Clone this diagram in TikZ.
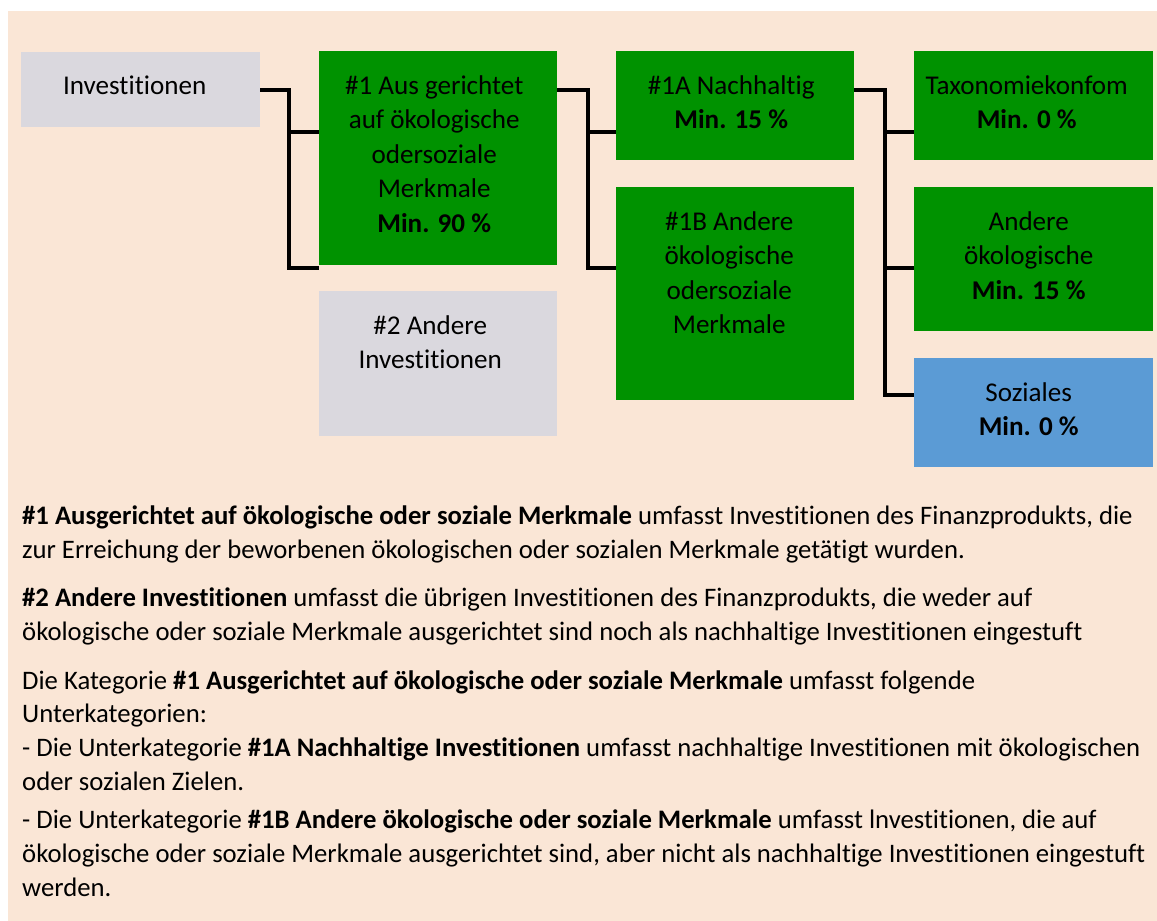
\documentclass[tikz,border=0pt]{standalone}
\usepackage{fontspec}
\setmainfont{Carlito}[Ligatures=NoCommon]
\usetikzlibrary{positioning}

\definecolor{peach}{HTML}{FAE6D6}
\definecolor{greybox}{HTML}{DAD8DE}
\definecolor{greenbox}{HTML}{009200}
\definecolor{bluebox}{HTML}{5B9BD5}

\tikzset{
  box/.style={anchor=north west, inner sep=0pt, minimum width=238pt},
  boxtext/.style={anchor=base, align=center, inner sep=0pt,
    font=\fontsize{27.1}{34.5}\selectfont},
  bodytext/.style={anchor=base west, align=left, inner sep=0pt,
    font=\fontsize{26.7}{33.6}\selectfont},
  link/.style={line width=4pt, black}
}

\begin{document}
\begin{tikzpicture}[x=1pt, y=-1pt]
        \useasboundingbox (0,0) rectangle (1157,921);
        \fill[peach] (8,11) rectangle (1157,921);

        % boxes
        \node[box, fill=greybox, minimum width=239pt, minimum height=75pt] (inv) at (21,52) {};
        \node[box, fill=greenbox, minimum height=214pt] (b1) at (319,51) {};
        \node[box, fill=greybox, minimum height=145pt] (b2) at (319,291) {};
        \node[box, fill=greenbox, minimum height=109pt] (b1a) at (616,51) {};
        \node[box, fill=greenbox, minimum height=213pt] (b1b) at (616,187) {};
        \node[box, fill=greenbox, minimum width=239pt, minimum height=109pt] (tax) at (914,51) {};
        \node[box, fill=greenbox, minimum width=239pt, minimum height=144pt] (oek) at (914,187) {};
        \node[box, fill=bluebox, minimum width=239pt, minimum height=109pt] (soz) at (914,358) {};

        % box texts (base = last line)
        \node[boxtext] (tinv) at ([xshift=-6pt,yshift=-42pt]inv.north) {Investitionen};
        \node[boxtext] (tb1) at ([xshift=-4pt,yshift=-181pt]b1.north) {\#1 Aus gerichtet\\auf ökologische\\odersoziale\\Merkmale\\\textbf{Min. 90 \%}};
        \node[boxtext] (tb2) at ([xshift=-8pt,yshift=-77.5pt]b2.north) {\#2 Andere\\Investitionen};
        \node[boxtext] (tb1a) at ([xshift=-4pt,yshift=-77.5pt]b1a.north) {\#1A Nachhaltig\\\textbf{Min. 15 \%}};
        \node[boxtext] (tb1b) at ([xshift=-6pt,yshift=-146.5pt]b1b.north) {\#1B Andere\\ökologische\\odersoziale\\Merkmale};
        \node[boxtext] (ttax) at ([xshift=-7pt,yshift=-77.5pt]tax.north) {Taxonomiekonfom\\\textbf{Min. 0 \%}};
        \node[boxtext] (toek) at ([xshift=-5pt,yshift=-112pt]oek.north) {Andere\\ökologische\\\textbf{Min. 15 \%}};
        \node[boxtext] (tsoz) at ([xshift=-5pt,yshift=-77.5pt]soz.north) {Soziales\\\textbf{Min. 0 \%}};

        % connectors
        \draw[link] (inv.east) -| ([xshift=-30pt,yshift=-3pt]b1.south west) -- ([yshift=-3pt]b1.south west);
        \draw[link] ([xshift=-30pt,yshift=-81pt]b1.north west) -- ([yshift=-81pt]b1.north west);
        \draw[link] ([yshift=-39pt]b1.north east) -| ([xshift=-28pt,yshift=-81pt]b1b.north west) -- ([yshift=-81pt]b1b.north west);
        \draw[link] ([xshift=-28pt,yshift=-81pt]b1a.north west) -- ([yshift=-81pt]b1a.north west);
        \draw[link] ([yshift=-39pt]b1a.north east) -| ([xshift=-29pt,yshift=-37pt]soz.north west) -- ([yshift=-37pt]soz.north west);
        \draw[link] ([xshift=-29pt,yshift=-81pt]tax.north west) -- ([yshift=-81pt]tax.north west);
        \draw[link] ([xshift=-29pt,yshift=-81pt]oek.north west) -- ([yshift=-81pt]oek.north west);

        % explanation (base = last line)
        \node[bodytext] (p1) at (22,558) {\textbf{\#1 Ausgerichtet auf ökologische oder soziale Merkmale} umfasst Investitionen des Finanzprodukts, die\\zur Erreichung der beworbenen ökologischen oder sozialen Merkmale getätigt wurden.};
        \node[bodytext] (p2) at (22,640) {\textbf{\#2 Andere Investitionen} umfasst die übrigen Investitionen des Finanzprodukts, die weder auf\\ökologische oder soziale Merkmale ausgerichtet sind noch als nachhaltige Investitionen eingestuft};
        \node[bodytext] (p3) at (22,790) {Die Kategorie \textbf{\#1 Ausgerichtet auf ökologische oder soziale Merkmale} umfasst folgende\\Unterkategorien:\\- Die Unterkategorie \textbf{\#1A Nachhaltige Investitionen} umfasst nachhaltige Investitionen mit ökologischen\\oder sozialen Zielen.};
        \node[bodytext] (p4) at (22,896) {- Die Unterkategorie \textbf{\#1B Andere ökologische oder soziale Merkmale} umfasst lnvestitionen, die auf\\ökologische oder soziale Merkmale ausgerichtet sind, aber nicht als nachhaltige Investitionen eingestuft\\werden.};
\end{tikzpicture}
\end{document}
